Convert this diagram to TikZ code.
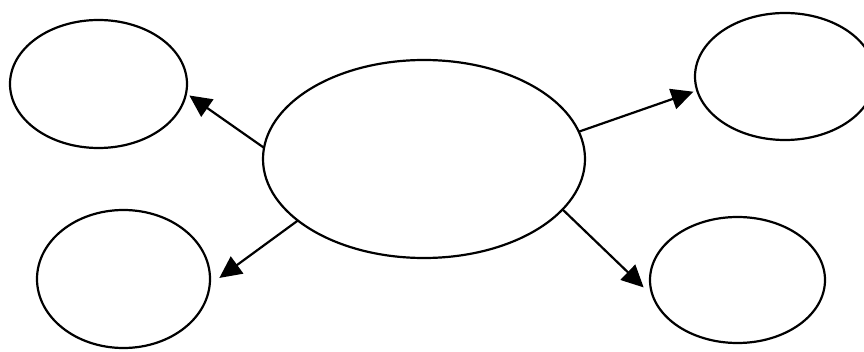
\documentclass[tikz,border=0pt]{standalone}
\usetikzlibrary{shapes.geometric,arrows.meta}
\begin{document}
\begin{tikzpicture}[x=1pt,y=-1pt,
  ell/.style={draw,ellipse,line width=2.2pt,inner sep=0pt,outer sep=0pt},
  conn/.style={line width=2.2pt,-{Triangle[length=22pt,width=21pt]}}]
\useasboundingbox (0,0) rectangle (864,352);
\node[ell,minimum width=322pt,minimum height=198pt] (c) at (424,159) {};
\node[ell,minimum width=177pt,minimum height=128pt] (tl) at (98.5,84) {};
\node[ell,minimum width=173pt,minimum height=138pt] (bl) at (123.5,279) {};
\node[ell,minimum width=180pt,minimum height=127pt] (tr) at (785,76.5) {};
\node[ell,minimum width=175pt,minimum height=126pt] (br) at (737.5,280) {};
\draw[conn,shorten >=4pt] (c.176) -- (tl.-6);
\draw[conn,shorten >=12pt] (c.206.9) -- (bl.-4);
\draw[conn,shorten >=4pt] (c.10.3) -- (tr.189.1);
\draw[conn,shorten >=13pt] (c.-20.1) -- (br.191.7);
\end{tikzpicture}
\end{document}
